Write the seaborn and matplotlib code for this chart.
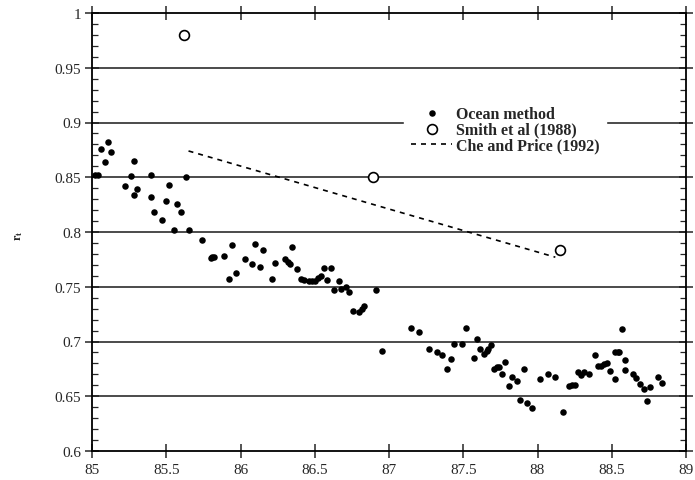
import numpy as np
import pandas as pd
import matplotlib
matplotlib.use("Agg")
import matplotlib.pyplot as plt
from matplotlib.ticker import MultipleLocator, FuncFormatter
import seaborn as sns

# --- Data ---
ocean_x = [85.02, 85.04, 85.06, 85.09, 85.11, 85.13, 85.22, 85.26, 85.28, 85.28,
           85.30, 85.40, 85.40, 85.42, 85.47, 85.50, 85.52, 85.55, 85.57, 85.60,
           85.63, 85.65, 85.74, 85.80, 85.81, 85.82, 85.89, 85.92, 85.94, 85.97,
           86.03, 86.08, 86.10, 86.13, 86.15, 86.21, 86.23, 86.30, 86.32, 86.33,
           86.35, 86.38, 86.41, 86.43, 86.46, 86.48, 86.50, 86.52, 86.54, 86.56,
           86.58, 86.61, 86.63, 86.66, 86.68, 86.71, 86.73, 86.76, 86.80, 86.82,
           86.83, 86.91, 86.95, 87.15, 87.20, 87.27, 87.32, 87.36, 87.39, 87.42,
           87.44, 87.49, 87.52, 87.57, 87.59, 87.61, 87.64, 87.66, 87.67, 87.69,
           87.71, 87.73, 87.74, 87.76, 87.78, 87.81, 87.83, 87.86, 87.88, 87.91,
           87.93, 87.96, 88.02, 88.07, 88.12, 88.17, 88.21, 88.23, 88.25, 88.27,
           88.29, 88.31, 88.35, 88.39, 88.41, 88.43, 88.45, 88.47, 88.49, 88.52,
           88.52, 88.54, 88.55, 88.57, 88.59, 88.59, 88.64, 88.66, 88.69, 88.72,
           88.74, 88.76, 88.81, 88.84]
ocean_y = [0.852, 0.852, 0.876, 0.864, 0.882, 0.873, 0.842, 0.851, 0.834, 0.865,
           0.839, 0.852, 0.832, 0.818, 0.811, 0.828, 0.843, 0.802, 0.826, 0.818,
           0.850, 0.802, 0.793, 0.776, 0.777, 0.777, 0.778, 0.757, 0.788, 0.763,
           0.775, 0.771, 0.789, 0.768, 0.784, 0.757, 0.772, 0.775, 0.773, 0.771,
           0.786, 0.766, 0.757, 0.756, 0.755, 0.755, 0.755, 0.758, 0.760, 0.767,
           0.756, 0.767, 0.747, 0.755, 0.748, 0.750, 0.745, 0.728, 0.727, 0.730,
           0.732, 0.747, 0.691, 0.712, 0.709, 0.693, 0.690, 0.688, 0.675, 0.684,
           0.698, 0.698, 0.712, 0.685, 0.702, 0.693, 0.689, 0.691, 0.693, 0.697,
           0.675, 0.677, 0.677, 0.670, 0.681, 0.659, 0.668, 0.664, 0.647, 0.675,
           0.644, 0.639, 0.666, 0.670, 0.668, 0.636, 0.659, 0.660, 0.660, 0.672,
           0.669, 0.672, 0.670, 0.688, 0.678, 0.678, 0.679, 0.680, 0.673, 0.666,
           0.690, 0.690, 0.690, 0.711, 0.683, 0.674, 0.670, 0.667, 0.661, 0.657,
           0.646, 0.658, 0.668, 0.662]

smith_x = [85.62, 86.89, 88.15]
smith_y = [0.980, 0.850, 0.784]

che_x = [85.65, 88.12]
che_y = [0.874, 0.777]

x_ticks = [85, 85.5, 86, 86.5, 87, 87.5, 88, 88.5, 89]
y_ticks = [0.6, 0.65, 0.7, 0.75, 0.8, 0.85, 0.9, 0.95, 1]

ocean = pd.DataFrame({"x": ocean_x, "y": ocean_y})
smith = pd.DataFrame({"x": smith_x, "y": smith_y})
che = pd.DataFrame({"x": che_x, "y": che_y})

sns.set_style("ticks")
plt.rcParams["font.family"] = ["Liberation Serif", "DejaVu Serif"]
plt.rcParams["mathtext.fontset"] = "stix"

fig = plt.figure(figsize=(6.95, 4.81), dpi=100)
ax = fig.add_axes([92 / 695, 1 - 452 / 481, 594 / 695, 438 / 481])

# horizontal rules
for yv in y_ticks[1:-1]:
    ax.axhline(yv, color="0.1", lw=1.1, zorder=1)

sns.scatterplot(data=ocean, x="x", y="y", ax=ax, color="black", s=22,
                edgecolor="black", linewidth=0, label="Ocean method", zorder=3)
sns.scatterplot(data=smith, x="x", y="y", ax=ax, facecolor="white", s=50,
                edgecolor="black", linewidth=1.2, label="Smith et al (1988)", zorder=3)
sns.lineplot(data=che, x="x", y="y", ax=ax, color="black", lw=1.2,
             dashes=False, label="Che and Price (1992)", zorder=2)
ax.lines[-1].set_dashes([3, 3])

ax.set_xlim(85, 89)
ax.set_ylim(0.6, 1.0)
ax.set_xticks(x_ticks)
ax.set_yticks(y_ticks)
fmt = FuncFormatter(lambda v, p: f"{v:g}")
ax.xaxis.set_major_formatter(fmt)
ax.yaxis.set_major_formatter(fmt)
ax.yaxis.set_minor_locator(MultipleLocator(0.01))

ax.tick_params(axis="x", which="major", direction="inout", length=10, width=1.1,
               top=True, bottom=True, labelsize=11, pad=4)
ax.tick_params(axis="y", which="major", direction="inout", length=10, width=1.1,
               left=True, right=True, labelsize=11, pad=3)
ax.tick_params(axis="y", which="minor", direction="in", length=4, width=0.9,
               left=True, right=True)
for sp in ax.spines.values():
    sp.set_linewidth(1.3)
    sp.set_color("black")

ax.set_xlabel("")
ax.set_ylabel(r"$\mathbf{r_t}$", fontsize=9, rotation=90)
ax.yaxis.set_label_coords(-0.113, 0.495)

leg = ax.legend(loc="center left", bbox_to_anchor=(0.526, 0.734),
                borderaxespad=0, frameon=True, fancybox=False, framealpha=1,
                edgecolor="white", facecolor="white", handlelength=2.6,
                handletextpad=0.2, labelspacing=0.0, borderpad=0.4,
                prop={"family": "Liberation Serif", "weight": "bold", "size": 11.5})
leg.set_zorder(5)

fig.savefig("out.png", dpi=100)
